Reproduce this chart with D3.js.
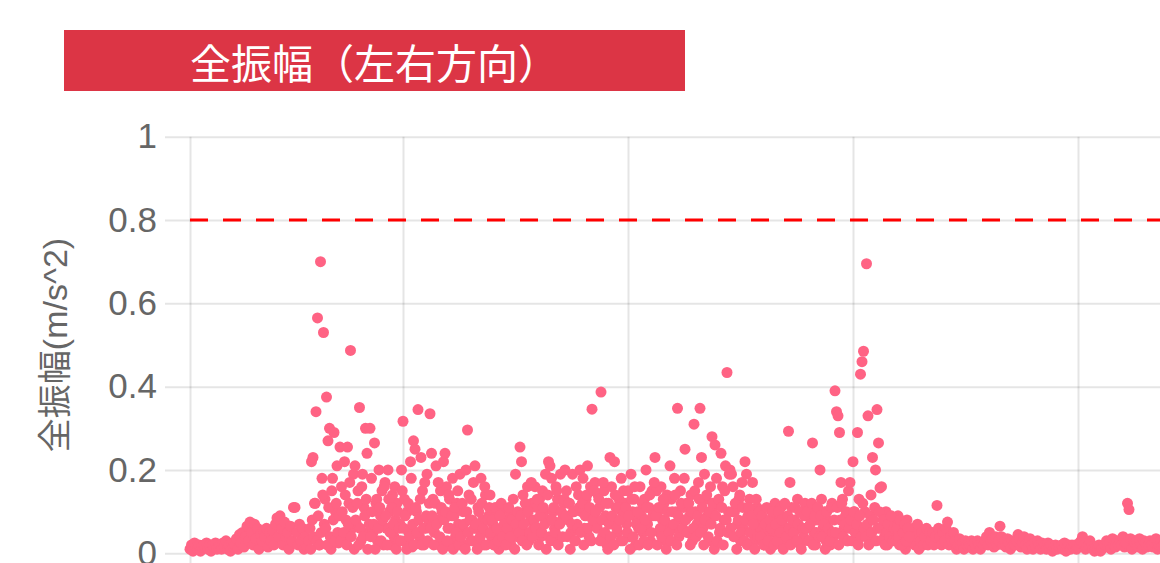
<html>
<head>
<meta charset="utf-8">
<script src="https://d3js.org/d3.v7.min.js"></script>
<style>
    body { margin: 0; background: #fff; }
    svg { display: block; }
</style>
</head>
<body>
<svg id="chart" width="1160" height="563"></svg>
<script>
// chart texts
const titleText = "全振幅（左右方向）";
const yTitle = "全振幅(m/s^2)";

// axes
const yTicks = [0, 0.2, 0.4, 0.6, 0.8, 1];
const xTicks = [0, 142, 292, 442, 592];   // sample index of the vertical grid lines
const threshold = 0.8;

// readings, one per sample, left to right (m/s^2)
const channelA = [
    0.01,0.02,0.005,0.025,0.015,0.01,0.02,0.005,0.015,0.02,
    0.015,0.025,0.01,0.02,0.005,0.02,0.015,0.025,0.01,0.015,
    0.02,0.01,0.025,0.015,0.03,0.01,0.02,0.005,0.025,0.015,
    0.02,0.035,0.01,0.045,0.025,0.05,0.015,0.04,0.065,0.03,
    0.075,0.05,0.02,0.07,0.035,0.06,0.01,0.045,0.03,0.055,
    0.04,0.06,0.015,0.05,0.03,0.055,0.02,0.07,0.085,0.04,
    0.09,0.06,0.02,0.075,0.04,0.05,0.01,0.065,0.03,0.11,
    0.11,0.05,0.02,0.07,0.03,0.06,0.01,0.04,0.015,0.03,
    0.06,0.22,0.23,0.12,0.34,0.565,0.02,0.70,0.18,0.53,
    0.13,0.375,0.27,0.30,0.01,0.18,0.29,0.10,0.21,0.025,
    0.255,0.16,0.04,0.22,0.08,0.255,0.12,0.487,0.06,0.19,
    0.21,0.07,0.15,0.35,0.03,0.19,0.11,0.30,0.24,0.05,
    0.30,0.18,0.05,0.265,0.12,0.03,0.2,0.09,0.15,0.02,
    0.17,0.06,0.20,0.1,0.02,0.14,0.04,0.08,0.12,0.03,
    0.07,0.2,0.317,0.13,0.03,0.1,0.05,0.22,0.015,0.27,
    0.25,0.1,0.345,0.04,0.23,0.15,0.02,0.06,0.19,0.08,
    0.335,0.24,0.13,0.05,0.21,0.08,0.02,0.15,0.1,0.22,
    0.24,0.16,0.06,0.13,0.02,0.18,0.09,0.04,0.12,0.07,
    0.19,0.05,0.1,0.02,0.2,0.296,0.14,0.03,0.08,0.17,
    0.21,0.06,0.11,0.03,0.18,0.08,0.02,0.14,0.05,0.09,
    0.14,0.04,0.07,0.02,0.09,0.05,0.01,0.1,0.03,0.06,
    0.08,0.03,0.06,0.1,0.02,0.05,0.09,0.19,0.04,0.07,
    0.255,0.22,0.14,0.05,0.1,0.16,0.03,0.08,0.12,0.06,
    0.16,0.11,0.06,0.13,0.04,0.15,0.1,0.19,0.08,0.22,
    0.21,0.18,0.1,0.06,0.16,0.13,0.04,0.19,0.08,0.12,
    0.2,0.15,0.08,0.12,0.05,0.19,0.1,0.03,0.07,0.14,
    0.2,0.1,0.18,0.06,0.13,0.21,0.04,0.16,0.346,0.09,
    0.17,0.07,0.14,0.11,0.387,0.04,0.15,0.09,0.02,0.12,
    0.23,0.16,0.08,0.22,0.11,0.05,0.13,0.03,0.1,0.15,
    0.12,0.07,0.15,0.04,0.19,0.1,0.13,0.02,0.08,0.06,
    0.16,0.09,0.05,0.13,0.2,0.07,0.11,0.03,0.15,0.1,
    0.23,0.15,0.1,0.05,0.16,0.08,0.12,0.03,0.14,0.06,
    0.21,0.13,0.06,0.18,0.1,0.348,0.04,0.15,0.08,0.11,
    0.25,0.12,0.05,0.09,0.14,0.03,0.31,0.1,0.07,0.17,
    0.348,0.23,0.06,0.19,0.13,0.09,0.03,0.16,0.28,0.11,
    0.26,0.18,0.12,0.05,0.24,0.16,0.08,0.21,0.434,0.1,
    0.2,0.19,0.16,0.1,0.04,0.07,0.13,0.03,0.17,0.06,
    0.22,0.19,0.09,0.13,0.05,0.17,0.03,0.08,0.11,0.06,
    0.06,0.03,0.08,0.02,0.05,0.04,0.07,0.01,0.1,0.05,
    0.12,0.05,0.09,0.03,0.11,0.07,0.02,0.06,0.04,0.293,
    0.17,0.11,0.05,0.08,0.03,0.13,0.06,0.02,0.1,0.04,
    0.12,0.06,0.09,0.03,0.1,0.265,0.05,0.02,0.08,0.04,
    0.2,0.13,0.06,0.1,0.03,0.08,0.05,0.02,0.12,0.04,
    0.39,0.34,0.33,0.29,0.17,0.13,0.06,0.09,0.03,0.15,
    0.17,0.06,0.22,0.1,0.03,0.29,0.13,0.43,0.46,0.485,
    0.1,0.695,0.33,0.05,0.14,0.23,0.03,0.2,0.345,0.265,
    0.157,0.16,0.08,0.04,0.1,0.02,0.06,0.03,0.07,0.05,
    0.07,0.04,0.09,0.02,0.05,0.03,0.06,0.01,0.08,0.04,
    0.05,0.03,0.06,0.02,0.04,0.07,0.01,0.03,0.05,0.02,
    0.04,0.06,0.02,0.05,0.03,0.05,0.02,0.04,0.115,0.06,
    0.04,0.02,0.05,0.03,0.06,0.075,0.02,0.04,0.03,0.05,
    0.03,0.01,0.02,0.035,0.015,0.025,0.01,0.03,0.02,0.015,
    0.02,0.03,0.01,0.025,0.015,0.03,0.02,0.01,0.025,0.02,
    0.03,0.04,0.02,0.05,0.03,0.035,0.015,0.04,0.02,0.03,
    0.065,0.04,0.02,0.03,0.015,0.035,0.025,0.01,0.03,0.02,
    0.02,0.03,0.045,0.035,0.015,0.025,0.04,0.02,0.01,0.03,
    0.035,0.02,0.01,0.025,0.015,0.03,0.02,0.01,0.025,0.015,
    0.02,0.01,0.025,0.015,0.02,0.005,0.015,0.02,0.01,0.015,
    0.015,0.02,0.01,0.025,0.005,0.015,0.02,0.01,0.02,0.015,
    0.02,0.01,0.015,0.025,0.03,0.04,0.02,0.01,0.015,0.02,
    0.03,0.015,0.01,0.005,0.015,0.01,0.02,0.005,0.01,0.015,
    0.02,0.03,0.015,0.025,0.01,0.035,0.02,0.015,0.03,0.02,
    0.03,0.02,0.04,0.015,0.025,0.12,0.105,0.035,0.01,0.03,
    0.025,0.03,0.015,0.035,0.02,0.01,0.03,0.025,0.015,0.02,
    0.03,0.02,0.015,0.025,0.035,0.01,0.02,0.03,0.015,0.02
];

// extra readings between the samples above, busy stretch only (from sample 80.5 on)
const channelBStart = 80.5;
const channelB = [
    0.01,0.08,0.04,0.12,0.03,0.09,0.02,0.05,0.14,0.07,
    0.06,0.02,0.11,0.04,0.15,0.08,0.03,0.12,0.05,0.09,
    0.03,0.1,0.05,0.14,0.02,0.07,0.17,0.04,0.11,0.01,
    0.08,0.12,0.02,0.06,0.16,0.04,0.09,0.13,0.01,0.07,
    0.04,0.1,0.07,0.01,0.13,0.06,0.11,0.03,0.08,0.16,
    0.09,0.02,0.13,0.05,0.11,0.07,0.16,0.01,0.1,0.06,
    0.03,0.15,0.06,0.09,0.01,0.12,0.04,0.18,0.07,0.02,
    0.11,0.05,0.08,0.13,0.02,0.06,0.17,0.09,0.03,0.12,
    0.06,0.09,0.02,0.12,0.07,0.17,0.04,0.11,0.01,0.08,
    0.1,0.03,0.14,0.06,0.09,0.01,0.11,0.05,0.15,0.02,
    0.04,0.12,0.07,0.01,0.1,0.05,0.08,0.13,0.03,0.06,
    0.07,0.01,0.1,0.04,0.12,0.06,0.16,0.02,0.08,0.11,
    0.05,0.08,0.02,0.11,0.06,0.03,0.09,0.12,0.04,0.07,
    0.02,0.06,0.11,0.04,0.08,0.13,0.01,0.07,0.1,0.05,
    0.09,0.03,0.07,0.12,0.02,0.1,0.05,0.17,0.04,0.08,
    0.06,0.13,0.02,0.09,0.05,0.11,0.07,0.01,0.14,0.04,
    0.03,0.08,0.11,0.05,0.15,0.02,0.07,0.1,0.04,0.13,
    0.09,0.04,0.12,0.01,0.07,0.1,0.03,0.16,0.06,0.11,
    0.05,0.12,0.02,0.09,0.14,0.06,0.11,0.03,0.08,0.15,
    0.1,0.06,0.13,0.03,0.08,0.17,0.05,0.12,0.01,0.07,
    0.04,0.09,0.02,0.14,0.06,0.11,0.08,0.18,0.03,0.1,
    0.11,0.05,0.09,0.01,0.13,0.04,0.16,0.07,0.1,0.02,
    0.06,0.12,0.03,0.08,0.11,0.02,0.14,0.05,0.09,0.17,
    0.09,0.02,0.11,0.06,0.04,0.13,0.08,0.01,0.1,0.05,
    0.03,0.1,0.07,0.14,0.02,0.09,0.05,0.12,0.06,0.18,
    0.08,0.05,0.12,0.02,0.1,0.06,0.15,0.04,0.09,0.13,
    0.05,0.11,0.02,0.08,0.14,0.04,0.1,0.07,0.12,0.01,
    0.09,0.03,0.13,0.06,0.11,0.02,0.15,0.08,0.05,0.19,
    0.06,0.1,0.04,0.12,0.01,0.08,0.14,0.05,0.11,0.03,
    0.08,0.02,0.11,0.05,0.09,0.07,0.01,0.13,0.04,0.1,
    0.04,0.09,0.02,0.07,0.11,0.03,0.08,0.06,0.1,0.02,
    0.07,0.03,0.1,0.05,0.08,0.01,0.12,0.04,0.09,0.06,
    0.02,0.08,0.05,0.11,0.03,0.07,0.1,0.01,0.06,0.09,
    0.06,0.1,0.03,0.07,0.12,0.02,0.09,0.05,0.11,0.04,
    0.09,0.04,0.07,0.01,0.1,0.06,0.03,0.11,0.05,0.08,
    0.05,0.11,0.02,0.08,0.12,0.04,0.07,0.1,0.03,0.06,
    0.08,0.03,0.1,0.05,0.07,0.02,0.09,0.04,0.12,0.06,
    0.04,0.07,0.02,0.09,0.05,0.08,0.11,0.03,0.06,0.1,
    0.06,0.03,0.08,0.02,0.05,0.07,0.04,0.09,0.03,0.06,
    0.03,0.06,0.04,0.08,0.02,0.05,0.07,0.03,0.06,0.04
];

const svg = d3.select("#chart");
const plotLeft = 190, plotRight = 1180, plotTop = 136.7, plotBottom = 553.3;

const x = d3.scaleLinear().domain([0, 660]).range([plotLeft, plotRight]);
const y = d3.scaleLinear().domain([0, 1]).range([plotBottom, plotTop]);

// title block
svg.append("rect")
    .attr("x", 64).attr("y", 30).attr("width", 621).attr("height", 61)
    .attr("fill", "#dc3545");
svg.append("text")
    .attr("x", 374.5).attr("y", 61)
    .attr("text-anchor", "middle").attr("dominant-baseline", "central")
    .attr("fill", "#fff")
    .style("font-family", "'Noto Sans CJK JP', sans-serif")
    .style("font-size", "41px")
    .text(titleText);

// vertical grid
const xg = svg.append("g").attr("transform", "translate(0,580)")
    .call(d3.axisBottom(x).tickValues(xTicks).tickSize(-(580 - plotTop)).tickFormat(""));
xg.select(".domain").remove();
xg.selectAll("line").attr("stroke", "rgba(0,0,0,0.1)").attr("stroke-width", 2);

// horizontal grid + labels
const yg = svg.append("g").attr("transform", "translate(165,0)")
    .call(d3.axisLeft(y).tickValues(yTicks).tickSize(-(plotRight - 165)).tickPadding(8)
        .tickFormat(d => String(+d.toFixed(1))));
yg.select(".domain").remove();
yg.selectAll("line").attr("stroke", "rgba(0,0,0,0.1)").attr("stroke-width", 2);
yg.selectAll("text")
    .attr("fill", "#666")
    .style("font-family", "'Liberation Sans', Arial, sans-serif")
    .style("font-size", "35px");

// y axis title
svg.append("text")
    .attr("transform", `translate(55,${(plotTop + plotBottom) / 2}) rotate(-90)`)
    .attr("text-anchor", "middle").attr("dominant-baseline", "central")
    .attr("fill", "#666")
    .style("font-family", "'Liberation Sans', 'Noto Sans CJK JP', sans-serif")
    .style("font-size", "34px")
    .text(yTitle);

// limit line
svg.append("line")
    .attr("x1", x(0)).attr("x2", plotRight)
    .attr("y1", y(threshold)).attr("y2", y(threshold))
    .attr("stroke", "#f00").attr("stroke-width", 3)
    .attr("stroke-dasharray", "18,15");

// points
const points = channelA.map((v, i) => ({ i: i, v: v }))
    .concat(channelB.map((v, j) => ({ i: channelBStart + j, v: v })));

svg.append("g").selectAll("circle")
    .data(points)
    .join("circle")
    .attr("cx", d => x(d.i))
    .attr("cy", d => y(d.v))
    .attr("r", 5.5)
    .attr("fill", "rgb(255,99,132)");
</script>
</body>
</html>
